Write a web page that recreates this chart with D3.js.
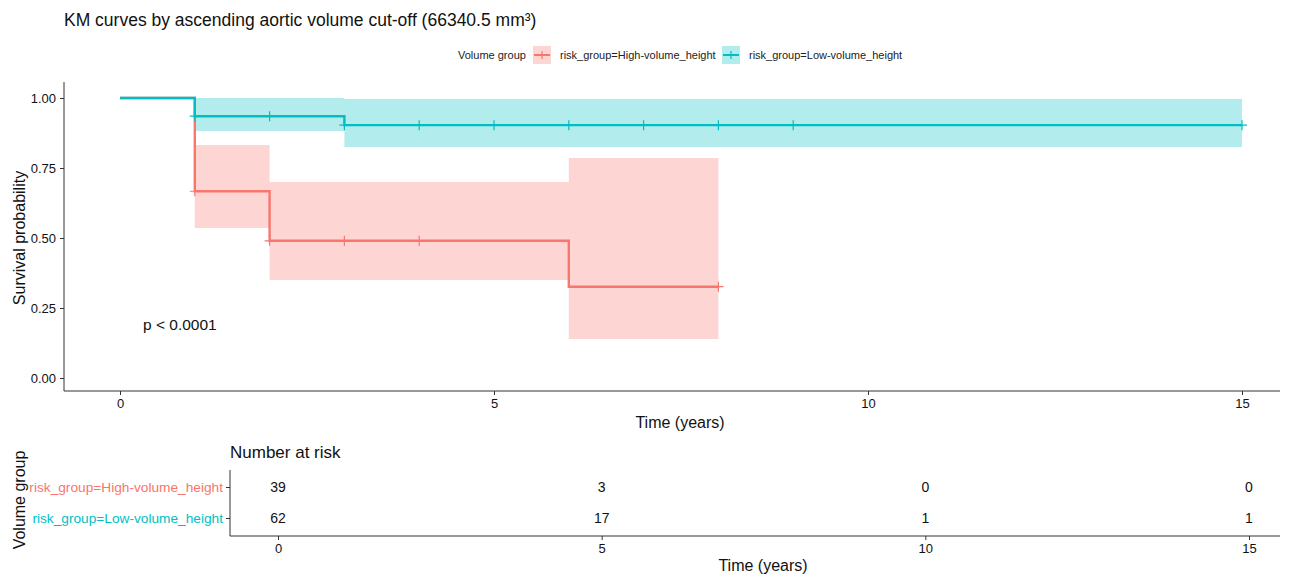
<!DOCTYPE html>
<html>
<head>
<meta charset="utf-8">
<script src="https://cdn.jsdelivr.net/npm/d3@7"></script>
<style>
  body { margin: 0; background: #fff; }
  svg { font-family: "Liberation Sans", Arial, sans-serif; }
  .axis path, .axis line { stroke: #333; }
  .axis text { font-size: 13px; }
</style>
</head>
<body>
<svg id="chart" width="1298" height="574"></svg>
<script>
// data
var groups = ["risk_group=High-volume_height", "risk_group=Low-volume_height"];
var colors = ["#F8766D", "#00BFC4"];
var timeTicks = [0, 5, 10, 15];
var survTicks = [0, 0.25, 0.5, 0.75, 1];

var highTime  = [0, 1, 2, 6, 8];
var highSurv  = [1, 0.667, 0.49, 0.326, 0.326];
var highUpper = [1, 0.832, 0.70, 0.786, 0.786];
var highLower = [1, 0.536, 0.35, 0.139, 0.139];
var highCensor = [1, 2, 3, 4, 8];

var lowTime  = [0, 1, 3, 15];
var lowSurv  = [1, 0.935, 0.903, 0.903];
var lowUpper = [1, 1, 0.996, 0.996];
var lowLower = [1, 0.882, 0.825, 0.825];
var lowCensor = [1, 2, 3, 4, 5, 6, 7, 8, 9, 15];

var riskHigh = [39, 3, 0, 0];
var riskLow  = [62, 17, 1, 1];

var svg = d3.select("#chart");

// ---- main KM panel ----
var x = d3.scaleLinear().domain([0, 15]).range([120, 1242]);
var y = d3.scaleLinear().domain([0, 1]).range([378, 98]);

var series = [
    {name: groups[0], color: colors[0], t: highTime, s: highSurv, up: highUpper, lo: highLower, cens: highCensor},
    {name: groups[1], color: colors[1], t: lowTime, s: lowSurv, up: lowUpper, lo: lowLower, cens: lowCensor}
];

// step value at time tt
function stepAt(d, tt) {
    var v = d.s[0];
    for (var i = 0; i < d.t.length; i++) { if (d.t[i] <= tt) v = d.s[i]; }
    return v;
}

var area = d3.area().curve(d3.curveStepAfter)
    .x(p => x(p.t)).y0(p => y(p.lo)).y1(p => y(p.up));
var line = d3.line().curve(d3.curveStepAfter)
    .x(p => x(p.t)).y(p => y(p.s));

series.forEach(function(d) {
    var pts = d.t.map((t, i) => ({t: t, s: d.s[i], up: d.up[i], lo: d.lo[i]}));
    svg.append("path").datum(pts).attr("d", area)
        .attr("fill", d.color).attr("fill-opacity", 0.3);
});
series.forEach(function(d) {
    var pts = d.t.map((t, i) => ({t: t, s: d.s[i]}));
    svg.append("path").datum(pts).attr("d", line)
        .attr("fill", "none").attr("stroke", d.color).attr("stroke-width", 2.4);
    // censor marks
    svg.append("g").selectAll("path")
        .data(d.cens)
        .enter().append("path")
        .attr("d", c => "M" + (x(c) - 5) + "," + y(stepAt(d, c)) + "h10M" + x(c) + "," + (y(stepAt(d, c)) - 5) + "v10")
        .attr("stroke", d.color).attr("stroke-width", 1.2);
});

// axes
var xAxis = svg.append("g").attr("class", "axis")
    .attr("transform", "translate(0,391)")
    .call(d3.axisBottom(x).tickValues(timeTicks).tickSize(4).tickPadding(4).tickSizeOuter(0));
xAxis.select(".domain").attr("d", "M64,0H1280");
xAxis.selectAll(".tick text").style("fill", "#111");

var yAxis = svg.append("g").attr("class", "axis")
    .attr("transform", "translate(64,0)")
    .call(d3.axisLeft(y).tickValues(survTicks).tickFormat(d3.format(".2f")).tickSize(4).tickPadding(4).tickSizeOuter(0));
yAxis.select(".domain").attr("d", "M0,82V391");
yAxis.selectAll(".tick text").style("fill", "#111");

svg.append("text").attr("x", 680).attr("y", 428).attr("text-anchor", "middle")
    .attr("font-size", 16).attr("fill", "#111").text("Time (years)");
svg.append("text").attr("transform", "translate(25,238) rotate(-90)").attr("text-anchor", "middle")
    .attr("font-size", 16).attr("fill", "#111").text("Survival probability");

svg.append("text").attr("x", 143).attr("y", 330)
    .attr("font-size", 15.5).attr("fill", "#111").text("p < 0.0001");

// title
svg.append("text").attr("x", 64).attr("y", 26)
    .attr("font-size", 17.5).attr("fill", "#111").text("KM curves by ascending aortic volume cut-off (66340.5 mm³)");

// legend
var legend = svg.append("g").attr("transform", "translate(458,55)");
legend.append("text").attr("x", 0).attr("y", 4).attr("font-size", 11).attr("fill", "#222").text("Volume group");
var legX = [75, 264];
series.forEach(function(d, i) {
    var g = legend.append("g").attr("transform", "translate(" + legX[i] + ",0)");
    g.append("rect").attr("x", 0).attr("y", -9).attr("width", 18).attr("height", 18)
        .attr("fill", d.color).attr("fill-opacity", 0.3);
    g.append("line").attr("x1", 1).attr("x2", 17).attr("y1", 0).attr("y2", 0)
        .attr("stroke", d.color).attr("stroke-width", 2);
    g.append("line").attr("x1", 9).attr("x2", 9).attr("y1", -4).attr("y2", 4)
        .attr("stroke", d.color).attr("stroke-width", 1.2);
    g.append("text").attr("x", 27).attr("y", 4).attr("font-size", 11).attr("fill", "#222").text(d.name);
});

// ---- risk table ----
var xr = d3.scaleLinear().domain([0, 15]).range([278, 1249]);
var yr = d3.scalePoint().domain(groups).range([487, 518]);
var risks = [riskHigh, riskLow];

svg.append("text").attr("x", 230).attr("y", 458).attr("font-size", 17).attr("fill", "#111").text("Number at risk");

risks.forEach(function(r, gi) {
    svg.append("g").selectAll("text")
        .data(r)
        .enter().append("text")
        .attr("x", (v, i) => xr(timeTicks[i]))
        .attr("y", yr(groups[gi]) + 5)
        .attr("text-anchor", "middle").attr("font-size", 14).attr("fill", "#111")
        .text(v => v);
});

var xrAxis = svg.append("g").attr("class", "axis")
    .attr("transform", "translate(0,536)")
    .call(d3.axisBottom(xr).tickValues(timeTicks).tickSize(4).tickPadding(4).tickSizeOuter(0));
xrAxis.select(".domain").attr("d", "M230,0H1280");
xrAxis.selectAll(".tick text").style("fill", "#111");

var yrAxis = svg.append("g").attr("class", "axis")
    .attr("transform", "translate(230,0)")
    .call(d3.axisLeft(yr).tickSize(4).tickPadding(3).tickSizeOuter(0));
yrAxis.select(".domain").attr("d", "M0,470V536");
yrAxis.selectAll(".tick text").style("font-size", "13.7px").style("fill", (d, i) => colors[i]);

svg.append("text").attr("x", 763).attr("y", 571).attr("text-anchor", "middle")
    .attr("font-size", 16).attr("fill", "#111").text("Time (years)");
svg.append("text").attr("transform", "translate(25,500) rotate(-90)").attr("text-anchor", "middle")
    .attr("font-size", 16).attr("fill", "#111").text("Volume group");
</script>
</body>
</html>
